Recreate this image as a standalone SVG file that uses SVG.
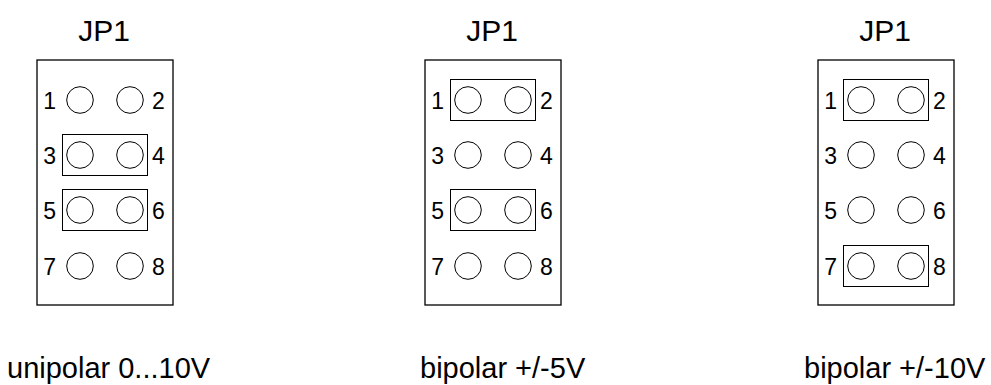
<svg xmlns="http://www.w3.org/2000/svg" width="991" height="385" viewBox="0 0 991 385">
<style>
.box{fill:none;stroke:#000;stroke-width:1.3}
.pin{fill:#fff;stroke:#000;stroke-width:1}
.jmp{fill:none;stroke:#000;stroke-width:1}
.t{font-family:"Liberation Sans",Arial,sans-serif;fill:#000}
.title{font-size:30px;text-anchor:middle}
.num{font-size:23px}
.l{text-anchor:end}
.cap{font-size:29px}
</style>
<rect width="991" height="385" fill="#fff"/>
<defs>
<g id="pins">
<circle class="pin" cx="-25" cy="100" r="13.3"/><circle class="pin" cx="25" cy="100" r="13.3"/>
<circle class="pin" cx="-25" cy="155" r="13.3"/><circle class="pin" cx="25" cy="155" r="13.3"/>
<circle class="pin" cx="-25" cy="210" r="13.3"/><circle class="pin" cx="25" cy="210" r="13.3"/>
<circle class="pin" cx="-25" cy="266" r="13.3"/><circle class="pin" cx="25" cy="266" r="13.3"/>
<text class="t num l" x="-49" y="109">1</text><text class="t num" x="47" y="109">2</text>
<text class="t num l" x="-49" y="164">3</text><text class="t num" x="47" y="164">4</text>
<text class="t num l" x="-49" y="219">5</text><text class="t num" x="47" y="219">6</text>
<text class="t num l" x="-49" y="275">7</text><text class="t num" x="47" y="275">8</text>
</g>
</defs>
<g id="jp1-unipolar">
<text class="t title" x="104" y="41">JP1</text>
<rect class="box" x="37" y="60" width="136" height="245"/>
<use href="#pins" x="105" y="0"/>
<rect class="jmp" x="62.5" y="134.5" width="85" height="41"/>
<rect class="jmp" x="62.5" y="189.5" width="85" height="41"/>
<text class="t cap" x="7" y="378">unipolar 0...10V</text>
</g>
<g id="jp1-bipolar5">
<text class="t title" x="492" y="41">JP1</text>
<rect class="box" x="425" y="60" width="136" height="245"/>
<use href="#pins" x="493" y="0"/>
<rect class="jmp" x="450.5" y="79.5" width="85" height="41"/>
<rect class="jmp" x="450.5" y="189.5" width="85" height="41"/>
<text class="t cap" x="420" y="378">bipolar +/-5V</text>
</g>
<g id="jp1-bipolar10">
<text class="t title" x="885" y="41">JP1</text>
<rect class="box" x="818" y="60" width="136" height="245"/>
<use href="#pins" x="886" y="0"/>
<rect class="jmp" x="843.5" y="79.5" width="85" height="41"/>
<rect class="jmp" x="843.5" y="245.5" width="85" height="41"/>
<text class="t cap" x="804" y="378">bipolar +/-10V</text>
</g>
<g id="connectors"/>
</svg>
